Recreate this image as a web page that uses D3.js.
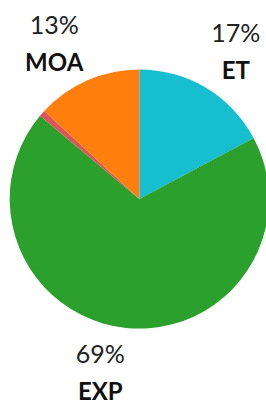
<!DOCTYPE html>
<html>
<head>
<meta charset="utf-8">
<script src="https://cdn.jsdelivr.net/npm/d3@7"></script>
<style>
body{margin:0;background:#fff;}
svg{display:block;font-family:Lato,"Open Sans",sans-serif;}
</style>
</head>
<body>
<svg id="chart"></svg>
<script>
// slice data, clockwise from 12 o'clock
var names = ["ET","EXP","OTH","MOA"];
var shares = [17.2,68.9,0.8,13.1];
var colors = ["#17becf","#2ca02c","#dd5558","#ff7f0e"];

var screen = {width:266, height:400};
var center = {x:139.3, y:199};
var radius = 129.6;
var labelRadius = 140;
var lineGap = 37;

var svg = d3.select("#chart")
    .attr("width",screen.width)
    .attr("height",screen.height);

var data = names.map(function(n,i){ return {name:n, value:shares[i], color:colors[i]}; });

var pie = d3.pie()
    .sort(null)
    .value(function(d){ return d.value; });

var arc = d3.arc()
    .innerRadius(0)
    .outerRadius(radius);

var arcs = pie(data);

var g = svg.append("g")
    .attr("transform","translate("+center.x+","+center.y+")");

g.selectAll("path")
    .data(arcs)
    .enter()
    .append("path")
    .attr("d",arc)
    .attr("fill",function(d){ return d.data.color; });

var total = d3.sum(shares);

//labels sit outside the pie, box corner touching the label radius
var labels = g.selectAll("g.label")
    .data(arcs.filter(function(d){ return d.data.value/total >= 0.02; }))
    .enter()
    .append("g")
    .classed("label",true);

labels.each(function(d){
    var lab = d3.select(this);
    var mid = (d.startAngle+d.endAngle)/2;
    var px = Math.sin(mid)*labelRadius;
    var py = -Math.cos(mid)*labelRadius;

    var pct = lab.append("text")
        .attr("text-anchor","middle")
        .attr("font-size",25)
        .attr("fill","#222")
        .text(Math.round(d.data.value/total*100)+"%");
    var nm = lab.append("text")
        .attr("text-anchor","middle")
        .attr("font-size",24)
        .attr("font-weight","bold")
        .attr("fill","#111")
        .text(d.data.name);

    var w = Math.max(pct.node().getComputedTextLength(), nm.node().getComputedTextLength());
    var cx = px >= 0 ? px + w/2 : px - w/2;
    var y1, y2;
    if (py < 0) {
        y2 = py;
        y1 = py - lineGap;
    } else {
        y1 = py + 25;
        y2 = y1 + lineGap;
    }
    pct.attr("x",cx).attr("y",y1);
    nm.attr("x",cx).attr("y",y2);
});
</script>
</body>
</html>
